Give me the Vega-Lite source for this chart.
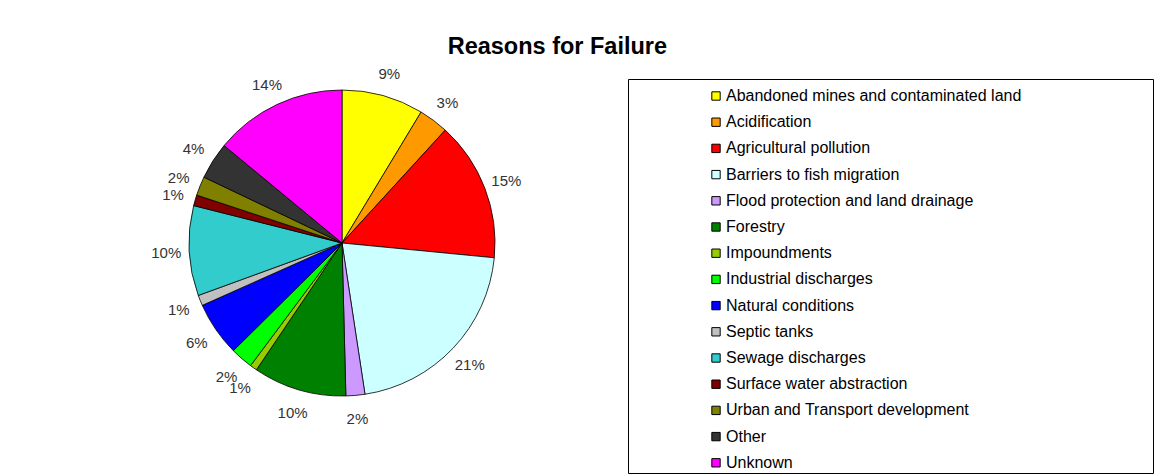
{
  "$schema": "https://vega.github.io/schema/vega-lite/v6.json",
  "background": "white",
  "padding": {"left": 151, "top": 34, "right": 0, "bottom": 0},
  "bounds": "flush",
  "spacing": 122,
  "title": {
    "text": "Reasons for Failure",
    "font": "Liberation Sans",
    "fontSize": 23.5,
    "fontWeight": "bold",
    "color": "#000000",
    "anchor": "middle",
    "frame": "bounds",
    "dx": -95,
    "offset": 9
  },
  "datasets": {
    "causes": [
      {"idx": 1, "cause": "Abandoned mines and contaminated land", "value": 8.65, "label": "9%"},
      {"idx": 2, "cause": "Acidification", "value": 3.14, "label": "3%"},
      {"idx": 3, "cause": "Agricultural pollution", "value": 14.75, "label": "15%"},
      {"idx": 4, "cause": "Barriers to fish migration", "value": 21.06, "label": "21%"},
      {"idx": 5, "cause": "Flood protection and land drainage", "value": 2.0, "label": "2%"},
      {"idx": 6, "cause": "Forestry", "value": 9.85, "label": "10%"},
      {"idx": 7, "cause": "Impoundments", "value": 0.75, "label": "1%"},
      {"idx": 8, "cause": "Industrial discharges", "value": 2.37, "label": "2%"},
      {"idx": 9, "cause": "Natural conditions", "value": 5.75, "label": "6%"},
      {"idx": 10, "cause": "Septic tanks", "value": 1.11, "label": "1%"},
      {"idx": 11, "cause": "Sewage discharges", "value": 9.5, "label": "10%"},
      {"idx": 12, "cause": "Surface water abstraction", "value": 1.14, "label": "1%"},
      {"idx": 13, "cause": "Urban and Transport development", "value": 2.01, "label": "2%"},
      {"idx": 14, "cause": "Other", "value": 3.91, "label": "4%"},
      {"idx": 15, "cause": "Unknown", "value": 14.01, "label": "14%"}
    ]
  },
  "hconcat": [
    {
      "width": 328,
      "height": 328,
      "data": {"name": "causes"},
      "encoding": {
        "theta": {"field": "value", "type": "quantitative", "stack": true},
        "order": {"field": "idx", "type": "quantitative"}
      },
      "layer": [
        {
          "mark": {"type": "arc", "outerRadius": 153, "stroke": "#000000", "strokeWidth": 0.8},
          "encoding": {
            "color": {
              "field": "cause",
              "type": "nominal",
              "legend": null,
              "scale": {
                "domain": ["Abandoned mines and contaminated land", "Acidification", "Agricultural pollution", "Barriers to fish migration", "Flood protection and land drainage", "Forestry", "Impoundments", "Industrial discharges", "Natural conditions", "Septic tanks", "Sewage discharges", "Surface water abstraction", "Urban and Transport development", "Other", "Unknown"],
                "range": ["#FFFF00", "#FF9900", "#FF0000", "#CCFFFF", "#CC99FF", "#008000", "#99CC00", "#00FF00", "#0000FF", "#C0C0C0", "#33CCCC", "#800000", "#808000", "#333333", "#FF00FF"]
              }
            }
          }
        },
        {
          "mark": {"type": "text", "radius": 176, "dy": 1, "font": "Liberation Sans", "fontSize": 15, "fill": "#333333", "align": "center", "baseline": "middle"},
          "encoding": {
            "detail": {"field": "cause", "type": "nominal"},
            "text": {"field": "label", "type": "nominal"}
          }
        }
      ]
    },
    {
      "width": 525,
      "height": 394,
      "view": {"stroke": "#000000", "strokeWidth": 1},
      "data": {"values": []},
      "mark": {"type": "arc", "stroke": "#000000", "strokeWidth": 1},
      "encoding": {
        "color": {
          "field": "cause",
          "type": "nominal",
          "scale": {
            "domain": ["Abandoned mines and contaminated land", "Acidification", "Agricultural pollution", "Barriers to fish migration", "Flood protection and land drainage", "Forestry", "Impoundments", "Industrial discharges", "Natural conditions", "Septic tanks", "Sewage discharges", "Surface water abstraction", "Urban and Transport development", "Other", "Unknown"],
            "range": ["#FFFF00", "#FF9900", "#FF0000", "#CCFFFF", "#CC99FF", "#008000", "#99CC00", "#00FF00", "#0000FF", "#C0C0C0", "#33CCCC", "#800000", "#808000", "#333333", "#FF00FF"]
          },
          "legend": {
            "title": null,
            "orient": "none",
            "legendX": 80,
            "legendY": 9,
            "symbolType": "square",
            "symbolSize": 70,
            "symbolStrokeColor": "#000000",
            "symbolStrokeWidth": 1,
            "symbolOpacity": 1,
            "labelFont": "Liberation Sans",
            "labelFontSize": 16,
            "labelColor": "#000000",
            "labelOffset": 2,
            "labelLimit": 0,
            "rowPadding": 10.2
          }
        }
      }
    }
  ],
  "resolve": {"scale": {"color": "independent"}, "legend": {"color": "independent"}},
  "config": {"view": {"stroke": null}}
}
